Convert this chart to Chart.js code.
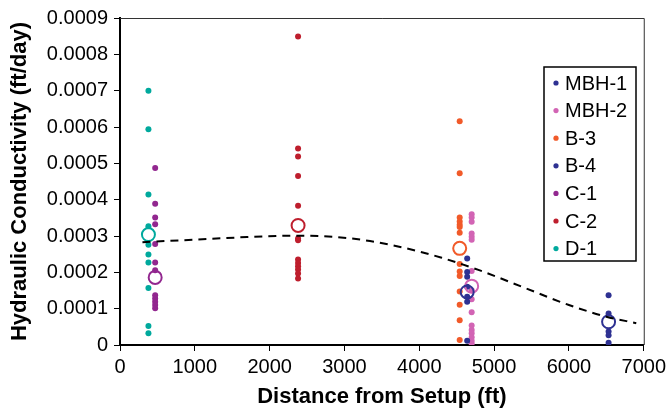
<!DOCTYPE html>
<html>
<head>
<meta charset="utf-8">
<script src="https://cdn.jsdelivr.net/npm/chart.js@4.4.1/dist/chart.umd.min.js"></script>
<style>
  body { margin: 0; background: #fff; }
  #wrap { width: 670px; height: 410px; }
</style>
</head>
<body>
<div id="wrap"><canvas id="chart" width="670" height="410"></canvas></div>
<script>
/* DATA */
const wells = ["MBH-1", "MBH-2", "B-3", "B-4", "C-1", "C-2", "D-1"];
const wellColors = ["#2E3192", "#D264B4", "#F15A29", "#2E3192", "#92278F", "#BE1E2D", "#00A99D"];
const wellDistance = [4640, 4700, 4540, 6530, 470, 2380, 380];

// hydraulic conductivity (ft/day) per test
const kMBH1 = [0.000238, 0.000201, 0.000188, 0.000160, 0.000133, 0.000119, 0.000012];
const kMBH2 = [0.000360, 0.000351, 0.000339, 0.000307, 0.000298, 0.000290, 0.000204, 0.000151,
               0.000126, 0.000090, 0.000054, 0.000041, 0.000032, 0.000021, 0.000012, 0.000004];
const kB3 = [0.000616, 0.000473, 0.000351, 0.000340, 0.000331, 0.000325, 0.000309, 0.000223,
             0.000202, 0.000190, 0.000147, 0.000111, 0.000068, 0.000014];
const kB4 = [0.000137, 0.000087, 0.000037, 0.000027, 0.000006];
const kC1 = [0.000487, 0.000389, 0.000351, 0.000332, 0.000278, 0.000227, 0.000206,
             0.000137, 0.000128, 0.000119, 0.000110, 0.000101];
const kC2 = [0.000849, 0.000541, 0.000519, 0.000465, 0.000383, 0.000293, 0.000288,
             0.000235, 0.000226, 0.000217, 0.000208, 0.000197, 0.000183];
const kD1 = [0.000700, 0.000594, 0.000414, 0.000327, 0.000276, 0.000249, 0.000227,
             0.000157, 0.000052, 0.000032];
const wellValues = [kMBH1, kMBH2, kB3, kB4, kC1, kC2, kD1];

// average per well (open circles)
const wellMean = [0.000146, 0.000162, 0.000266, 0.000064, 0.000186, 0.000329, 0.000304];

// trend line
const trendX = [300, 1000, 1700, 2400, 3100, 3700, 4300, 4800, 5400, 6000, 6500, 6900];
const trendY = [0.000283, 0.000290, 0.000297, 0.000301, 0.000293, 0.000272, 0.000240,
                0.000206, 0.000158, 0.000110, 0.000078, 0.000060];

const xTicks = [0, 1000, 2000, 3000, 4000, 5000, 6000, 7000];
const yTicks = [0, 0.0001, 0.0002, 0.0003, 0.0004, 0.0005, 0.0006, 0.0007, 0.0008, 0.0009];

/* DATASETS */
const datasets = [];

wells.forEach((w, i) => {
    datasets.push({
        label: w,
        data: wellValues[i].map(v => ({ x: wellDistance[i], y: v })),
        backgroundColor: wellColors[i],
        borderColor: wellColors[i],
        pointRadius: 3,
        pointBorderWidth: 0,
        order: 3
    });
});

wells.forEach((w, i) => {
    datasets.push({
        label: w + " mean",
        isMean: true,
        data: [{ x: wellDistance[i], y: wellMean[i] }],
        backgroundColor: "rgba(0,0,0,0)",
        borderColor: wellColors[i],
        pointRadius: 6.5,
        pointBorderWidth: 2,
        order: 2
    });
});

datasets.push({
    label: "trend",
    isMean: true,
    data: trendX.map((x, i) => ({ x, y: trendY[i] })),
    showLine: true,
    borderColor: "#000",
    borderWidth: 2,
    borderDash: [8, 6],
    pointRadius: 0,
    cubicInterpolationMode: "monotone",
    order: 1
});

/* BOX + LEGEND */
const frame = {
    id: "frame",
    afterDraw(chart) {
        const ctx = chart.ctx;
        const a = chart.chartArea;
        ctx.save();
        ctx.strokeStyle = "#333";
        ctx.lineWidth = 1;
        ctx.beginPath();
        ctx.moveTo(a.left, a.top + 0.5);
        ctx.lineTo(a.right + 0.5, a.top + 0.5);
        ctx.lineTo(a.right + 0.5, a.bottom);
        ctx.stroke();

        // legend
        const items = chart.data.datasets.filter(d => !d.isMean);
        const bx = 544, by = 67, bw = 92, bh = 194;
        ctx.fillStyle = "#fff";
        ctx.fillRect(bx, by, bw, bh);
        ctx.strokeStyle = "#000";
        ctx.lineWidth = 1.5;
        ctx.strokeRect(bx, by, bw, bh);
        ctx.font = "20px 'Liberation Sans', Arial, sans-serif";
        ctx.textBaseline = "middle";
        items.forEach((d, i) => {
            const y = 83 + i * 27.6;
            ctx.fillStyle = d.backgroundColor;
            ctx.beginPath();
            ctx.arc(556, y, 2.6, 0, Math.PI * 2);
            ctx.fill();
            ctx.fillStyle = "#000";
            ctx.fillText(d.label, 565, y + 1);
        });
        ctx.restore();
    }
};

/* CHART */
const tickFont = { family: "'Liberation Sans', Arial, sans-serif", size: 20 };
const titleFont = { family: "'Liberation Sans', Arial, sans-serif", size: 22, weight: "bold" };

new Chart(document.getElementById("chart"), {
    type: "scatter",
    data: { datasets },
    options: {
        responsive: false,
        animation: false,
        devicePixelRatio: 1,
        layout: { padding: { top: 17, right: 22, left: 0, bottom: 0 } },
        plugins: {
            legend: { display: false },
            tooltip: { enabled: false }
        },
        scales: {
            x: {
                type: "linear",
                min: 0,
                max: 7000,
                afterBuildTicks: axis => { axis.ticks = xTicks.map(v => ({ value: v })); },
                afterFit: axis => { axis.height = 65; },
                border: { color: "#000", width: 2 },
                grid: { drawOnChartArea: false, color: "#000", tickLength: 6 },
                ticks: { color: "#000", font: tickFont, padding: 4, maxRotation: 0, callback: v => String(v) },
                title: {
                    display: true,
                    text: "Distance from Setup (ft)",
                    color: "#000",
                    font: titleFont,
                    padding: { top: 0, bottom: 0 }
                }
            },
            y: {
                type: "linear",
                min: 0,
                max: 0.0009,
                afterBuildTicks: axis => { axis.ticks = yTicks.map(v => ({ value: v })); },
                afterFit: axis => { axis.width = 120; },
                border: { color: "#000", width: 2 },
                grid: { drawOnChartArea: false, color: "#000", tickLength: 6 },
                ticks: {
                    color: "#000",
                    font: tickFont,
                    padding: 6,
                    callback: v => v === 0 ? "0" : v.toFixed(4)
                },
                title: {
                    display: true,
                    text: "Hydraulic Conductivity (ft/day)",
                    color: "#000",
                    font: titleFont,
                    padding: { top: 7, bottom: 0 }
                }
            }
        }
    },
    plugins: [frame]
});
</script>
</body>
</html>
